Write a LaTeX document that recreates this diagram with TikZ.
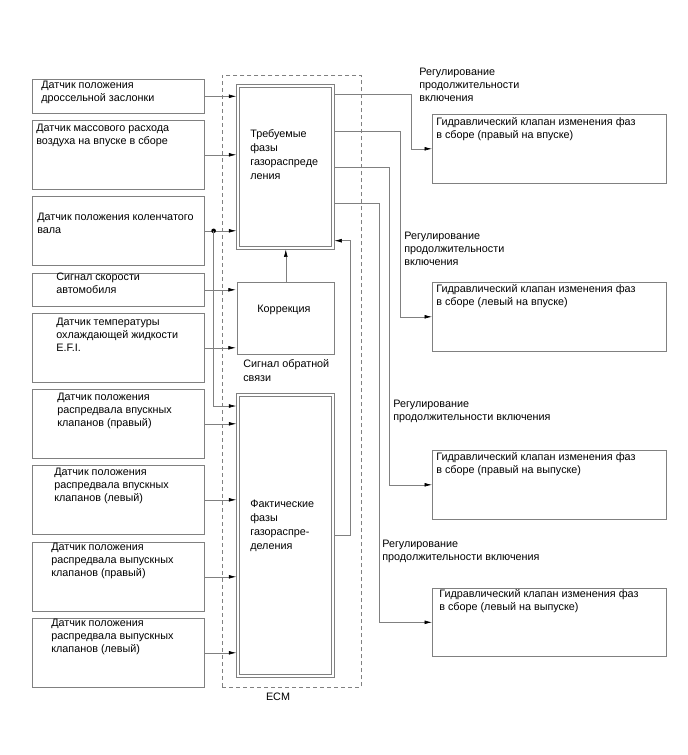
\documentclass[tikz,border=0pt]{standalone}
\usepackage{fontspec}
\setmainfont{Liberation Sans}
\usetikzlibrary{arrows.meta,calc}
\definecolor{ln}{gray}{0.5}
\begin{document}
\begin{tikzpicture}[x=1pt, y=-1pt, line width=0.6pt, font=\fontsize{10.8}{13}\selectfont,
  box/.style={draw=ln, anchor=north west, inner sep=0pt},
  dbox/.style={draw=ln, double=white, double distance=2.2pt, line width=0.7pt, anchor=north west, inner sep=0pt},
  txt/.style={align=left, anchor=north west, inner sep=0pt},
  arr/.style={draw=ln, -{Latex[length=7.5pt,width=3.8pt,color=black]}},
  line/.style={draw=ln}]
\useasboundingbox (0,0) rectangle (688,755);
% ECM frame
\node[draw=ln, dashed, dash pattern=on 4pt off 3pt, anchor=north west, minimum width=139, minimum height=612, inner sep=0pt] (ecm) at (222,75) {};
\node (ecmt) at (278,697) {ECM};
% inputs
\foreach \n/\yt/\h/\tx/\ty/\lbl in {
  1/79/34/41/81/{Датчик положения\\дроссельной заслонки},
  2/120/69/36/124/{Датчик массового расхода\\воздуха на впуске в сборе},
  3/196/69/37/213/{Датчик положения коленчатого\\вала},
  4/273/33/56/273/{Сигнал скорости\\автомобиля},
  5/313/69/56/318/{Датчик температуры\\охлаждающей жидкости\\E.F.I.},
  6/389/69/57/393/{Датчик положения\\распредвала впускных\\клапанов (правый)},
  7/465/69/54/468/{Датчик положения\\распредвала впускных\\клапанов (левый)},
  8/542/69/51/543/{Датчик положения\\распредвала выпускных\\клапанов (правый)},
  9/618/69/51/619/{Датчик положения\\распредвала выпускных\\клапанов (левый)}}{
  \node[box, minimum width=172, minimum height=\h] (s\n) at (32,\yt) {};
  \node[txt] (s\n t) at (\tx,\ty) {\lbl};
}
% ECM blocks
\node[dbox, minimum width=95, minimum height=162] (des) at (237.5,85.5) {};
\node[txt] (dest) at (250,129) {Требуемые\\[1pt]фазы\\[1pt]газораспреде\\[1pt]ления};
\node[box, minimum width=97, minimum height=72] (cor) at (237,282) {};
\node (cort) at (284,310) {Коррекция};
\node[txt] (fbt) at (243,359) {Сигнал обратной\\[1pt]связи};
\node[dbox, minimum width=95, minimum height=281] (act) at (237.5,394.5) {};
\node[txt] (actt) at (250,500) {Фактические\\[1pt]фазы\\[1pt]газораспре-\\[1pt]деления};
% valves
\foreach \n/\yt/\h/\tx/\ty/\lbl in {
  1/114/69/436/117/{Гидравлический клапан изменения фаз\\в сборе (правый на впуске)},
  2/282/69/436/284/{Гидравлический клапан изменения фаз\\в сборе (левый на впуске)},
  3/450/69/436/452/{Гидравлический клапан изменения фаз\\в сборе (правый на выпуске)},
  4/588/68/439/589/{Гидравлический клапан изменения фаз\\в сборе (левый на выпуске)}}{
  \node[box, minimum width=234, minimum height=\h] (v\n) at (432,\yt) {};
  \node[txt] (v\n t) at (\tx,\ty) {\lbl};
}
\node[txt] (r1) at (419,68) {Регулирование\\продолжительности\\включения};
\node[txt] (r2) at (404,232) {Регулирование\\продолжительности\\включения};
\node[txt] (r3) at (393,400) {Регулирование\\продолжительности включения};
\node[txt] (r4) at (382,540) {Регулирование\\продолжительности включения};
% connectors
\foreach \n/\dst in {1/des,2/des,3/des,4/cor,5/cor,6/act,7/act,8/act,9/act}
  \draw[arr, shorten >=1.2pt] (s\n.east) -- (s\n.east -| \dst.west);
\coordinate (jn) at ($(s3.east)+(9,0)$);
\fill (jn) circle (2.3);
\draw[arr, shorten >=1.2pt] (jn) |- ([yshift=-11.5pt]act.north west);
\draw[arr, shorten >=1.2pt] (cor.north) -- (cor.north |- des.south);
\draw[arr, shorten <=1.2pt, shorten >=1.2pt] (act.east) -- ++(17.5,0) |- ([yshift=7.5pt]des.south east);
\draw[arr, shorten <=1.2pt] ([yshift=-8.5pt]des.north east) -- ++(78.5,0) |- (v1.west);
\draw[arr, shorten <=1.2pt] ([yshift=-45.5pt]des.north east) -- ++(67.5,0) |- (v2.west);
\draw[arr, shorten <=1.2pt] ([yshift=-81.5pt]des.north east) -- ++(56.5,0) |- (v3.west);
\draw[arr, shorten <=1.2pt] ([yshift=-117.5pt]des.north east) -- ++(46.5,0) |- (v4.west);
\end{tikzpicture}
\end{document}
